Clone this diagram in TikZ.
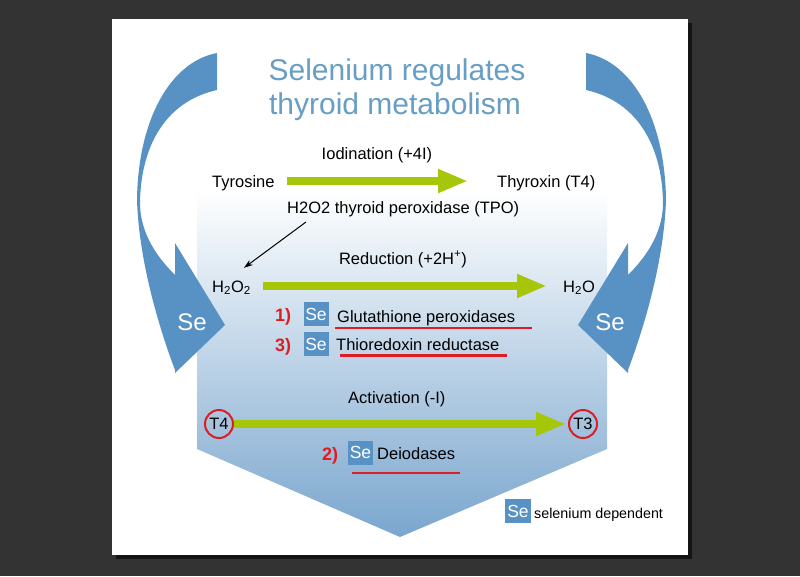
\documentclass[tikz,border=0pt]{standalone}
\usepackage{fontspec}
\setmainfont{Liberation Sans}
\usetikzlibrary{arrows.meta,calc}
\definecolor{bgdark}{RGB}{51,51,51}
\definecolor{seblue}{RGB}{88,146,196}
\definecolor{titleblue}{RGB}{104,158,196}
\definecolor{lgreen}{RGB}{166,198,10}
\definecolor{dred}{RGB}{222,28,35}
\definecolor{shmid}{RGB}{224,235,244}
\definecolor{shbot}{RGB}{122,166,206}
\newcommand{\myfs}[1]{\fontsize{#1}{#1}\selectfont}
\begin{document}
\begin{tikzpicture}[x=1pt,y=-1pt,
  lbl/.style={font=\myfs{16.5}, inner sep=0pt, text height=12pt, text depth=0pt, anchor=base west},
  ttl/.style={font=\myfs{30}, text=titleblue, inner sep=0pt, anchor=base},
  num/.style={font=\myfs{18}\bfseries, text=dred, inner sep=0pt, anchor=base west},
  sebox/.style={fill=seblue, text=white, font=\myfs{17.5}, inner sep=0pt, minimum width=25pt, minimum height=24pt},
  bigse/.style={font=\myfs{24}, text=white, inner sep=0pt, anchor=base},
  garrow/.style={draw=lgreen, line width=8pt, -{Triangle[length=30pt,width=22pt]}},
  tarrow/.style={draw=black, line width=1pt, -{Stealth[length=9pt,width=6pt]}},
  uline/.style={draw=dred, line width=2.2pt},
  tcirc/.style={circle, draw=dred, line width=2pt, minimum size=28pt, inner sep=0pt, font=\myfs{16.5}},
  bigarrow/.style={fill=seblue}
]
\useasboundingbox (0,0) rectangle (800,576);
\fill[bgdark] (0,0) rectangle (800,576);
\fill[black, opacity=0.6] (116,23) rectangle (692,559);
\fill[white] (112,19) rectangle (688,555);

% shaded pentagon
\shade[top color=white, middle color=shmid, bottom color=shbot]
  (197,190) -- (607,190) -- (607,449) -- (400,537) -- (197,449) -- cycle;

% big curved arrows
\def\arrowpath{(217,53) .. controls (170,62) and (138,120) .. (137,200)
  .. controls (139,260) and (158,325) .. (175,370) -- (175,373) -- (225,325) -- (175,243) -- (175,275)
  .. controls (158,258) and (141,235) .. (140,205)
  .. controls (140,150) and (163,102) .. (217,90) -- cycle}
\fill[bigarrow] \arrowpath;
\begin{scope}[shift={(803,0)}, xscale=-1]
\fill[bigarrow] \arrowpath;
\end{scope}
\node[bigse] (seL) at (192,330) {Se};
\node[bigse] (seR) at (610,330) {Se};

% title
\node[ttl] (title1) at (397,80) {Selenium regulates};
\node[ttl] (title2) at (395,114) {thyroid metabolism};

% iodination row
\node[lbl, anchor=base] (iod) at (377,159) {Iodination (+4I)};
\node[lbl] (tyr) at (212,187) {Tyrosine};
\node[lbl] (thy) at (497,187) {Thyroxin (T4)};
\draw[garrow, shorten <=12pt, shorten >=29pt] (tyr.east) -- (thy.west);
\node[lbl] (tpo) at (287,213) {H2O2 thyroid peroxidase (TPO)};

% reduction row
\node[lbl, anchor=base] (red) at (403,264) {Reduction (+2H\textsuperscript{+})};
\node[lbl] (h2o2) at (212,292) {H\textsubscript{2}O\textsubscript{2}};
\node[lbl] (h2o) at (563,292) {H\textsubscript{2}O};
\draw[garrow, shorten <=12pt, shorten >=16pt] (h2o2.east) -- (h2o.west);
\coordinate (tpoarr) at (306,222);
\draw[tarrow] (tpoarr) -- ([shift={(-7,-12)}]h2o2.north east);

\node[num] (n1) at (275,321) {1)};
\node[sebox] (se1) at (316,314) {Se};
\node[lbl] (glu) at (337,322) {Glutathione peroxidases};
\draw[uline] (335,328) -- (532,328);
\node[num] (n3) at (275,351) {3)};
\node[sebox] (se3) at (316,344) {Se};
\node[lbl] (thio) at (336,350) {Thioredoxin reductase};
\draw[uline] (340,355.5) -- (507,355.5);

% activation row
\node[lbl] (act) at (348,403) {Activation (-I)};
\node[tcirc] (t4) at (219,424) {T4};
\node[tcirc] (t3) at (583,424) {T3};
\draw[garrow, shorten >=2pt] (t4.east) -- (t3.west);
\node[num] (n2) at (322,460) {2)};
\node[sebox] (se2) at (360.5,452.5) {Se};
\node[lbl] (deio) at (377,459) {Deiodases};
\draw[uline] (352,473) -- (460,473);

% legend
\node[sebox, minimum width=26pt] (seleg) at (518,511) {Se};
\node[lbl, font=\myfs{14.3}] (legtxt) at (534,518) {selenium dependent};
\end{tikzpicture}
\end{document}
